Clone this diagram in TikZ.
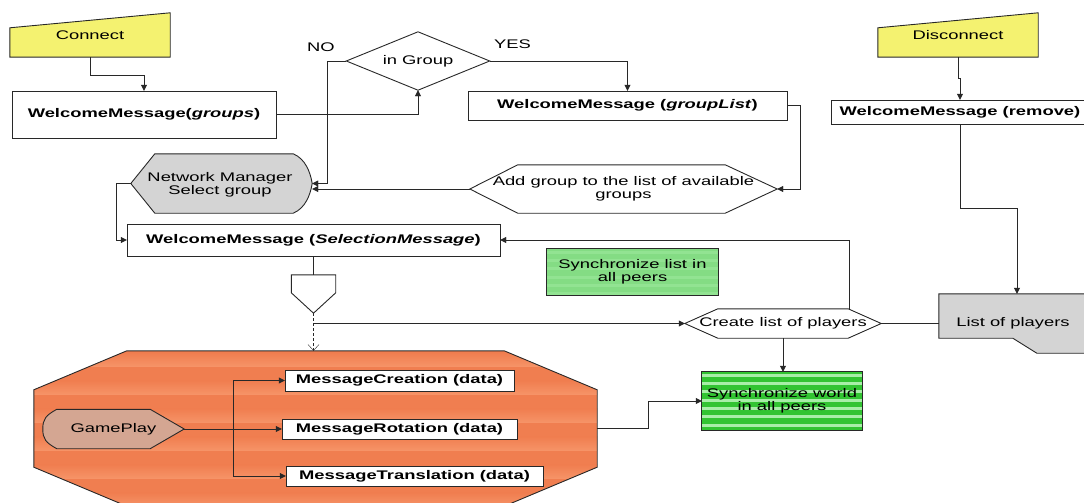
\documentclass[tikz,border=0pt]{standalone}
\usepackage{fontspec}
\setmainfont{Liberation Sans}[FakeStretch=1.47]
\usetikzlibrary{arrows.meta,calc}
\pgfdeclarelayer{bg}
\pgfsetlayers{bg,main}

\definecolor{ln}{RGB}{40,40,40}
\definecolor{yel}{RGB}{244,242,112}
\definecolor{gry}{RGB}{212,212,212}
\definecolor{org}{RGB}{240,126,80}
\definecolor{orgl}{RGB}{246,148,104}
\definecolor{gpc}{RGB}{212,166,146}
\definecolor{grn}{RGB}{50,196,50}
\definecolor{grnl}{RGB}{168,238,168}
\definecolor{grnp}{RGB}{132,220,132}
\definecolor{grnpl}{RGB}{146,227,146}

\begin{document}
\begin{tikzpicture}[x=1pt,y=-1pt,
  font=\fontsize{12.5}{13.5}\selectfont,
  line width=0.9pt,
  area/.style={rectangle,inner sep=0pt,align=center},
  box/.style={rectangle,draw=ln,fill=white,inner sep=0pt,align=center,font=\fontsize{12.5}{13.5}\selectfont\bfseries},
  shapeline/.style={draw=ln,line width=0.9pt},
  link/.style={draw=ln},
  arr/.style={draw=ln,-{Triangle[length=6pt,width=6pt]}},
  dasharr/.style={draw=ln,dash pattern=on 3pt off 2pt,-{Straight Barb[length=6pt,width=11pt]}}]

\useasboundingbox (0,0) rectangle (1084,503);
\begin{pgfonlayer}{bg}
  \fill[white] (0,0) rectangle (1084,503);
\end{pgfonlayer}
\clip (0,0) rectangle (1084,503);

% ---------- nodes ----------
\node[area,minimum width=160pt,minimum height=44pt] (conn) at (90,35) {Connect};
\node[area,minimum width=160pt,minimum height=44pt] (dc) at (958,35) {Disconnect};

\node[box,minimum width=264pt,minimum height=47pt] (wg) at (144,114.5)
  {WelcomeMessage(\textit{groups})};
\node[area,minimum width=143pt,minimum height=58pt] (ig) at (418,61) {in Group};
\node[box,minimum width=319pt,minimum height=29pt] (gl) at (627.5,105.5)
  {WelcomeMessage (\textit{groupList})};
\node[box,minimum width=258pt,minimum height=24pt] (rm) at (960,112)
  {WelcomeMessage (remove)};

\node[area,minimum width=181pt,minimum height=59pt] (nm) at (221.5,183.5) {};
\node[align=center,inner sep=0pt] (nmtext) at (220,185) {Network Manager\\Select group};
\node[area,minimum width=307pt,minimum height=48pt] (ag) at (623.5,189)
  {Add group to the list of available\\groups};

\node[box,minimum width=373pt,minimum height=32pt] (sm) at (313.5,240)
  {WelcomeMessage (\textit{SelectionMessage})};
\node[area,minimum width=44pt,minimum height=38pt] (opc) at (313.5,294) {};

\node[area,minimum width=171pt,minimum height=46pt] (sl) at (632.5,272)
  {Synchronize list in\\all peers};
\node[area,minimum width=196pt,minimum height=29pt] (cl) at (783,323.5)
  {Create list of players};
\node[area,minimum width=148pt,minimum height=59pt] (lp) at (1013,323.5)
  {List of players};

\node[area,minimum width=563pt,minimum height=155pt] (oct) at (315.5,428.5) {};
\node[area,minimum width=141pt,minimum height=39pt] (gp) at (113.5,429) {GamePlay};
\node[box,minimum width=229pt,minimum height=21pt] (mc) at (399.5,380.5)
  {MessageCreation (data)};
\node[box,minimum width=235pt,minimum height=20pt] (mr) at (399.5,429)
  {MessageRotation (data)};
\node[box,minimum width=257pt,minimum height=20pt] (mt) at (414.5,476)
  {MessageTranslation (data)};
\node[area,minimum width=160pt,minimum height=58pt] (sw) at (782,401)
  {Synchronize world\\in all peers};

\node[inner sep=0pt] (no) at (321,47) {NO};
\node[inner sep=0pt] (yes) at (512.5,44) {YES};

% ---------- outlines and fills behind the text ----------
\begin{pgfonlayer}{bg}
  % manual inputs
  \filldraw[shapeline,fill=yel] (conn.south west) -- (conn.south east) -- (conn.north east)
    -- ($(conn.north west)+(0,15)$) -- cycle;
  \filldraw[shapeline,fill=yel] (dc.south west) -- (dc.south east) -- (dc.north east)
    -- ($(dc.north west)+(0,15)$) -- cycle;
  % decision
  \filldraw[shapeline,fill=white] (ig.west) -- (ig.north) -- (ig.east) -- (ig.south) -- cycle;
  % display shape
  \filldraw[shapeline,fill=gry] (nm.west) -- ($(nm.north west)+(24,0)$)
    -- ($(nm.north east)+(-19,0)$)
    .. controls ($(nm.north east)+(-7,5)$) and ($(nm.east)+(-2,-12)$) .. (nm.east)
    .. controls ($(nm.east)+(-2,12)$) and ($(nm.south east)+(-7,-5)$) .. ($(nm.south east)+(-19,0)$)
    -- ($(nm.south west)+(24,0)$) -- cycle;
  % preparation hexagons
  \filldraw[shapeline,fill=white] (ag.west) -- ($(ag.north west)+(48,0)$) -- ($(ag.north east)+(-52,0)$)
    -- (ag.east) -- ($(ag.south east)+(-52,0)$) -- ($(ag.south west)+(48,0)$) -- cycle;
  \filldraw[shapeline,fill=white] (cl.west) -- ($(cl.north west)+(33,0)$) -- ($(cl.north east)+(-33,0)$)
    -- (cl.east) -- ($(cl.south east)+(-33,0)$) -- ($(cl.south west)+(33,0)$) -- cycle;
  % off-page connector
  \filldraw[shapeline,fill=white] (opc.north west) -- (opc.north east) -- ($(opc.north east)+(0,18)$)
    -- (opc.south) -- ($(opc.north west)+(0,18)$) -- cycle;
  % list of players card
  \filldraw[shapeline,fill=gry] (lp.north west) -- ($(lp.north east)+(5,0)$) -- ($(lp.south east)+(5,0)$)
    -- ($(lp.south west)+(98,0)$) -- ($(lp.south west)+(74,-15)$) -- ($(lp.south west)+(0,-15)$) -- cycle;
  % synchronize list
  \begin{scope}
    \clip (sl.north west) rectangle (sl.south east);
    \fill[grnp] (sl.north west) rectangle (sl.south east);
    \foreach \k in {0,...,5}
      \fill[grnpl] ($(sl.north west)+(0,2+8.3*\k)$) rectangle ($(sl.north east)+(0,5+8.3*\k)$);
  \end{scope}
  \draw[shapeline] (sl.north west) rectangle (sl.south east);
  % synchronize world
  \begin{scope}
    \clip (sw.north west) rectangle (sw.south east);
    \fill[grn] (sw.north west) rectangle (sw.south east);
    \foreach \k in {0,...,6}
      \fill[grnl] ($(sw.north west)+(0,2+8.3*\k)$) rectangle ($(sw.north east)+(0,5+8.3*\k)$);
  \end{scope}
  \draw[shapeline] (sw.north west) rectangle (sw.south east);
  % game play region
  \begin{scope}
    \clip ($(oct.north west)+(93,0)$) -- ($(oct.north east)+(-93,0)$) -- ($(oct.north east)+(0,39)$)
      -- ($(oct.south east)+(0,-39)$) -- ($(oct.south east)+(-93,0)$) -- ($(oct.south west)+(93,0)$)
      -- ($(oct.south west)+(0,-39)$) -- ($(oct.north west)+(0,39)$) -- cycle;
    \fill[org] (oct.north west) rectangle (oct.south east);
    \foreach \k in {0,...,5}
      \shade[top color=org,bottom color=orgl]
        ($(oct.north west)+(0,2+28*\k)$) rectangle ($(oct.north east)+(0,16+28*\k)$);
  \end{scope}
  \draw[shapeline] ($(oct.north west)+(93,0)$) -- ($(oct.north east)+(-93,0)$) -- ($(oct.north east)+(0,39)$)
    -- ($(oct.south east)+(0,-39)$) -- ($(oct.south east)+(-93,0)$) -- ($(oct.south west)+(93,0)$)
    -- ($(oct.south west)+(0,-39)$) -- ($(oct.north west)+(0,39)$) -- cycle;
  % game play display shape
  \filldraw[shapeline,fill=gpc] ($(gp.north west)+(14,0)$) -- ($(gp.north east)+(-34,0)$) -- (gp.east)
    -- ($(gp.south east)+(-34,0)$) -- ($(gp.south west)+(14,0)$)
    .. controls ($(gp.south west)+(3,-6)$) and ($(gp.west)+(0,10)$) .. (gp.west)
    .. controls ($(gp.west)+(0,-10)$) and ($(gp.north west)+(3,6)$) .. ($(gp.north west)+(14,0)$) -- cycle;
\end{pgfonlayer}

% ---------- connectors ----------
\draw[arr] (conn.south) -- ++(0,18) -| (wg.north);
\draw[arr] (wg.east) -| (ig.south);
\draw[arr] (ig.west) -- ++(-19,0) |- (nm.east);
\draw[arr] (ig.east) -| (gl.north);
\draw[arr] (gl.east) -- ++(13,0) |- (ag.east);
\draw[arr] (ag.west) -- (ag.west -| nm.east);
\draw[arr] (nm.west) -- ++(-15,0) |- (sm.west);
\draw[arr] ([xshift=-32pt]cl.north east) |- (sm.east);
\draw[link] (sm.south) -- (opc.north);
\draw[dasharr] (opc.south) -- (opc.south |- oct.north);
\draw[arr] (opc.south |- cl.west) -- (cl.west);
\draw[link] (cl.east) -- (lp.west |- cl.east);
\draw[arr] (cl.south) -- (cl.south |- sw.north);
\draw[arr] (oct.east) -- ++(51,0) |- (sw.west);
\draw[arr] (dc.south) -- ++(0,21) -| (rm.north);
\draw[arr] (rm.south) -- ++(0,84) -| ([xshift=4pt]lp.north);
\draw[arr] (gp.east) -- ++(49,0) |- (mc.west);
\draw[arr] (gp.east) -- (gp.east -| mr.west);
\draw[arr] (gp.east) -- ++(49,0) |- (mt.west);
\end{tikzpicture}
\end{document}
